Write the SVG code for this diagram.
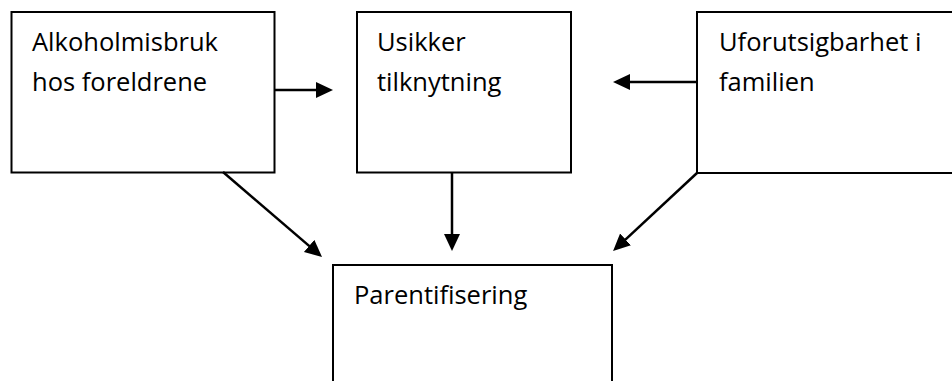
<svg xmlns="http://www.w3.org/2000/svg" width="952" height="381" viewBox="0 0 952 381">
<style>
.box{fill:#fff;stroke:#000;stroke-width:2}
.lbl{font-family:"Open Sans","Liberation Sans",sans-serif;font-size:25.5px;fill:#000}
.con{stroke:#000;stroke-width:2.5;fill:none;marker-end:url(#ah)}
</style>
<defs>
<marker id="ah" markerUnits="userSpaceOnUse" markerWidth="19" markerHeight="17" refX="13" refY="8" orient="auto">
<path d="M0,0 L17,8 L0,16 z" fill="#000"/>
</marker>
</defs>
<rect width="952" height="381" fill="#fff"/>
<g id="n1"><rect class="box" x="11.5" y="12" width="263" height="160.5"/>
<text class="lbl" x="32" y="51">Alkoholmisbruk</text>
<text class="lbl" x="32" y="91">hos foreldrene</text></g>
<g id="n2"><rect class="box" x="357" y="12" width="214" height="160.5"/>
<text class="lbl" x="377" y="51">Usikker</text>
<text class="lbl" x="377" y="91">tilknytning</text></g>
<g id="n3"><rect class="box" x="697" y="12" width="270" height="161"/>
<text class="lbl" x="719" y="51">Uforutsigbarhet i</text>
<text class="lbl" x="719" y="91">familien</text></g>
<g id="n4"><rect class="box" x="333" y="265" width="279" height="130"/>
<text class="lbl" x="354" y="304">Parentifisering</text></g>
<g id="connectors">
<line class="con" x1="274" y1="90" x2="329" y2="90"/>
<line class="con" x1="697" y1="82" x2="617" y2="82"/>
<line class="con" x1="452" y1="173" x2="452" y2="247"/>
<line class="con" x1="223" y1="172" x2="319" y2="254.4"/>
<line class="con" x1="697" y1="173" x2="616" y2="248.3"/>
</g>
</svg>
